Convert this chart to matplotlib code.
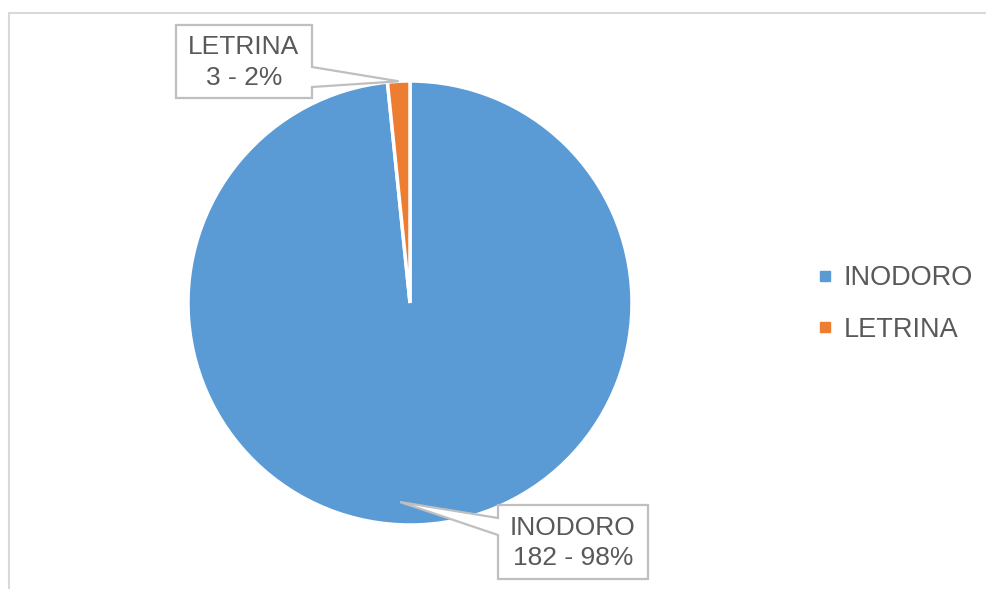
import matplotlib.pyplot as plt
from matplotlib.patches import Polygon
from matplotlib.lines import Line2D
import numpy as np

plt.rcParams['font.family'] = ['Liberation Sans', 'DejaVu Sans']

labels = ['INODORO', 'LETRINA']
counts = [182, 3]
colors = ['#5B9BD5', '#ED7D31']

W, H = 987, 589
TEXT = '#595959'
BOX = '#BFBFBF'

fig = plt.figure(figsize=(W / 100, H / 100), dpi=100)
ax = fig.add_axes([0, 0, 1, 1])
ax.set_xlim(0, W)
ax.set_ylim(0, H)
ax.set_aspect('equal')
ax.axis('off')


def Y(y):
    # pixel rows are measured from the top
    return H - y


# chart area border (top and left edges)
ax.plot([8, W], [Y(12.5), Y(12.5)], color='#D9D9D9', lw=1.5, solid_capstyle='butt')
ax.plot([8.5, 8.5], [Y(12), 0], color='#D9D9D9', lw=1.5, solid_capstyle='butt')

cx, cy, r = 410, Y(303), 222
wedges, _ = ax.pie(counts, colors=colors, startangle=90, counterclock=False,
                   center=(cx, cy), radius=r, frame=True,
                   wedgeprops=dict(edgecolor='white', linewidth=2.5))
ax.set_xlim(0, W)
ax.set_ylim(0, H)
ax.axis('off')

total = sum(counts)


def callout(box, base, tip, text):
    x0, y0, x1, y1 = box
    if base[0] == 'right':
        pts = [(x0, y0), (x1, y0), (x1, base[1]), tip, (x1, base[2]), (x1, y1), (x0, y1)]
    else:
        pts = [(x0, y0), (x1, y0), (x1, y1), (x0, y1), (x0, base[2]), tip, (x0, base[1])]
    pts = [(px, Y(py)) for px, py in pts]
    ax.add_patch(Polygon(pts, closed=True, facecolor='white', edgecolor=BOX, lw=1.6, zorder=5))
    ax.text((x0 + x1) / 2, Y((y0 + y1) / 2 + 1), text, ha='center', va='center',
            fontsize=19, color=TEXT, linespacing=1.33, zorder=6)


def tip_at(i, frac):
    w = wedges[i]
    ang = np.deg2rad((w.theta1 + w.theta2) / 2)
    return (cx + frac * r * np.cos(ang), H - (cy + frac * r * np.sin(ang)))


pcts = [round(c / total * 100) for c in counts]
texts = [f'{lab}\n{c} - {p}%' for lab, c, p in zip(labels, counts, pcts)]

callout((176, 25, 312, 98), ('right', 67, 87), tip_at(1, 1.0), texts[1])
callout((498, 505, 648, 579), ('left', 518, 535), (400, 502), texts[0])

handles = [Line2D([], [], marker='s', linestyle='none', markersize=7,
                  markerfacecolor=c, markeredgecolor=c) for c in colors]
ax.legend(handles, labels, loc='center left', bbox_to_anchor=(818 / W, 1 - 304 / H),
          frameon=False, fontsize=19.5, labelcolor=TEXT, handlelength=0.5,
          handletextpad=0.45, labelspacing=0.95, borderpad=0, borderaxespad=0)

fig.savefig('out.png', dpi=100)
